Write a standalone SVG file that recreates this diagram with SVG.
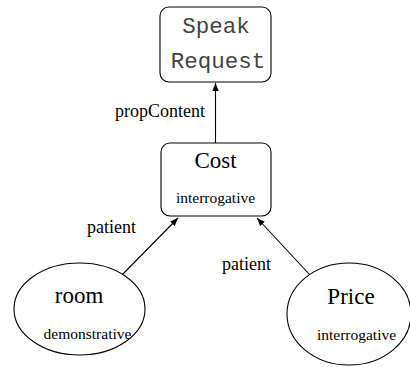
<svg xmlns="http://www.w3.org/2000/svg" width="410" height="367" viewBox="0 0 410 367">
<defs>
<style>
.box{fill:#fff;stroke:#000;stroke-width:1.1}
.t{font-family:"Liberation Serif","Times New Roman",serif;fill:#000}
.big{font-size:23px}
.sm{font-size:15.5px}
.lbl{font-size:18px}
.mono{font-family:"Liberation Mono","Courier New",monospace;font-size:22.5px;fill:#444}
.edge{stroke:#000;stroke-width:1.1;fill:none}
</style>
<marker id="ah" viewBox="0 0 10 10" refX="10" refY="5" markerWidth="8" markerHeight="8" markerUnits="userSpaceOnUse" orient="auto">
<path d="M0,1 L10,5 L0,9 z" fill="#000"/>
</marker>
</defs>
<g id="edges">
<line class="edge" x1="215.5" y1="143" x2="215.5" y2="83" marker-end="url(#ah)"/>
<line class="edge" x1="119" y1="278" x2="178" y2="218" marker-end="url(#ah)"/>
<line class="edge" x1="310" y1="275" x2="257" y2="218" marker-end="url(#ah)"/>
<text class="t lbl" x="205" y="117" text-anchor="end">propContent</text>
<text class="t lbl" x="87" y="233">patient</text>
<text class="t lbl" x="222" y="270">patient</text>
</g>
<g id="speak">
<rect class="box" x="160" y="7" width="111" height="75" rx="9"/>
<text class="mono" x="216" y="33" text-anchor="middle">Speak</text>
<text class="mono" x="218" y="68" text-anchor="middle">Request</text>
</g>
<g id="cost">
<rect class="box" x="161" y="143" width="110" height="73" rx="9"/>
<text class="t big" x="215.5" y="168" text-anchor="middle">Cost</text>
<text class="t sm" x="215.5" y="203" text-anchor="middle">interrogative</text>
</g>
<g id="room">
<ellipse class="box" cx="79.5" cy="309" rx="65.5" ry="46"/>
<text class="t big" x="79" y="303" text-anchor="middle">room</text>
<text class="t sm" x="87.5" y="339" text-anchor="middle">demonstrative</text>
</g>
<g id="price">
<ellipse class="box" cx="349" cy="314" rx="62" ry="51"/>
<text class="t big" x="351" y="304" text-anchor="middle">Price</text>
<text class="t sm" x="356.5" y="340" text-anchor="middle">interrogative</text>
</g>
</svg>
